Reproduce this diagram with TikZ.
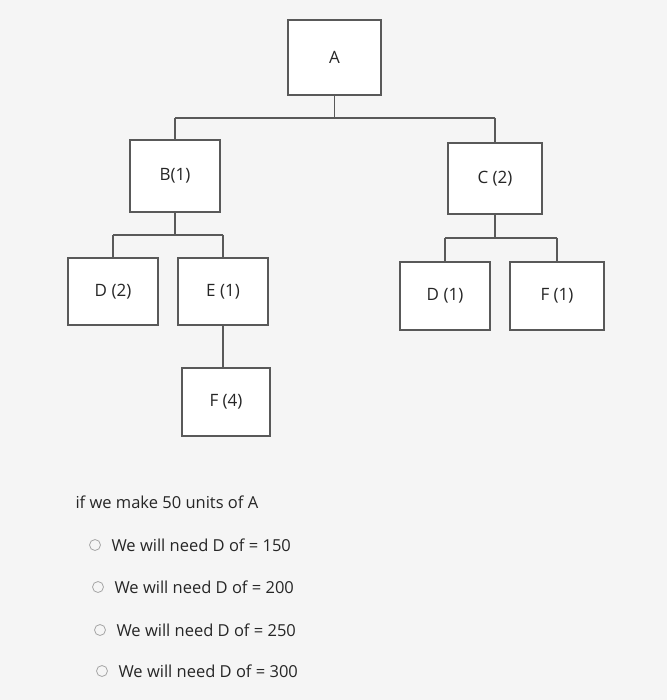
\documentclass[tikz,border=0pt]{standalone}
\usepackage{fontspec}
\setmainfont{Open Sans}
\begin{document}
\begin{tikzpicture}[x=1pt,y=-1pt,
  box/.style={draw=gray!70!black,line width=1.2pt,fill=white,text=black!85,font=\fontsize{17}{20}\selectfont,inner sep=0pt},
  ln/.style={draw=gray!70!black,line width=1.2pt},
  opt/.style={font=\fontsize{16.5}{20}\selectfont,text=black!85,anchor=west},
  radio/.style={circle,draw=gray!70,line width=0.8pt,minimum size=11pt,inner sep=0pt}]
\fill[gray!8] (0,0) rectangle (667,700);
\useasboundingbox (0,0) rectangle (667,700);
\node[box,minimum width=93pt,minimum height=75pt] (A) at (334.5,57.5) {A};
\node[box,minimum width=90pt,minimum height=72pt] (B) at (175,176) {B(1)};
\node[box,minimum width=94pt,minimum height=71pt] (C) at (495,178.5) {C (2)};
\node[box,minimum width=90pt,minimum height=67pt] (D2) at (113,291.5) {D (2)};
\node[box,minimum width=90pt,minimum height=67pt] (E) at (223,291.5) {E (1)};
\node[box,minimum width=90pt,minimum height=68pt] (D1) at (445,296) {D (1)};
\node[box,minimum width=94pt,minimum height=68pt] (F1) at (557,296) {F (1)};
\node[box,minimum width=88pt,minimum height=68pt] (F4) at (226,402) {F (4)};
\coordinate (a1) at (334.5,118); \coordinate (aL) at (175,118); \coordinate (aR) at (495,118);
\draw[ln] (A.south) -- (a1); \draw[ln] (aL) -- (aR);
\draw[ln] (aL) -- (B.north); \draw[ln] (aR) -- (C.north);
\coordinate (b1) at (175,235); \coordinate (bL) at (113,235); \coordinate (bR) at (223,235);
\draw[ln] (B.south) -- (b1); \draw[ln] (bL) -- (bR);
\draw[ln] (bL) -- (D2.north); \draw[ln] (bR) -- (E.north);
\coordinate (c1) at (495,238); \coordinate (cL) at (445,238); \coordinate (cR) at (557,238);
\draw[ln] (C.south) -- (c1); \draw[ln] (cL) -- (cR);
\draw[ln] (cL) -- (D1.north); \draw[ln] (cR) -- (F1.north);
\draw[ln] (E.south) -- (E.south |- F4.north);
\node[opt] (q) at (72,502) {if we make 50 units of A};
\node[radio] (r1) at (95,545) {}; \node[opt] (t1) at (108,545) {We will need D of = 150};
\node[radio] (r2) at (98,587) {}; \node[opt] (t2) at (111,587) {We will need D of = 200};
\node[radio] (r3) at (100,630) {}; \node[opt] (t3) at (113,630) {We will need D of = 250};
\node[radio] (r4) at (102,671) {}; \node[opt] (t4) at (115,671) {We will need D of = 300};
\end{tikzpicture}
\end{document}
